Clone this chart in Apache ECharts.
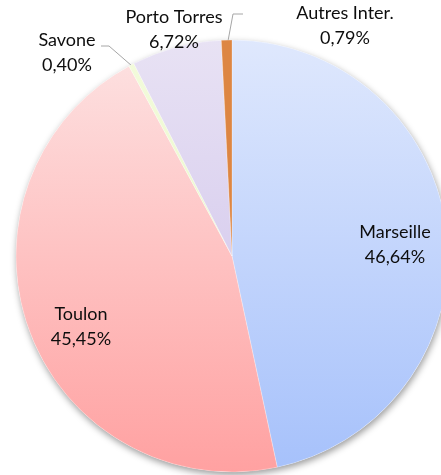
<!DOCTYPE html>
<html>
<head>
<meta charset="utf-8">
<script src="https://cdn.jsdelivr.net/npm/echarts@6/dist/echarts.min.js"></script>
<style>
  html, body { margin: 0; padding: 0; background: #fff; }
  #chart { width: 441px; height: 475px; }
</style>
</head>
<body>
<div id="chart"></div>
<script>
// ports and their share (%)
const ports = ['Marseille', 'Toulon', 'Savone', 'Porto Torres', 'Autres Inter.']
const shares = [46.64, 45.45, 0.40, 6.72, 0.79]
const colorsTop = ['#dfe8fd', '#fde3e3', '#f3fbdc', '#e8e2f4', '#dd8643']
const colorsBottom = ['#a6c1fb', '#ffa1a1', '#e6f6c2', '#cbbde9', '#dd8643']

// where Excel put each label (center of the text block)
const labelPos = [[395, 245], [81, 327], [67, 53], [174, 30], [345, 26]]
const leaderLines = [null, null, [[132, 66], [109, 46], [101, 46]], null, [[228, 41], [233, 14], [243, 14]]]

const fmt = v => v.toFixed(2).replace('.', ',') + '%'

let chart = echarts.init(document.getElementById('chart'), null, {renderer: 'canvas'})

let data = []
for (let i = 0; i < ports.length; i++) {
  data.push({
    name: ports[i],
    value: shares[i],
    itemStyle: {
      color: new echarts.graphic.LinearGradient(0, 40, 0, 472, [
        {offset: 0, color: colorsTop[i]},
        {offset: 1, color: colorsBottom[i]}
      ], true)
    },
    labelLine: {show: leaderLines[i] !== null}
  })
}

let option = {
  animation: false,
  backgroundColor: '#fff',
  series: [
    {
      // shadow under the pie
      type: 'pie',
      silent: true,
      center: [232, 256],
      radius: 216,
      z: 1,
      label: {show: false},
      labelLine: {show: false},
      itemStyle: {
        color: '#fff',
        shadowBlur: 7,
        shadowOffsetX: 1,
        shadowOffsetY: 3,
        shadowColor: 'rgba(0, 0, 0, 0.4)'
      },
      data: [{value: 1}]
    },
    {
      type: 'pie',
      center: [232, 256],
      radius: 216,
      startAngle: 90,
      clockwise: true,
      z: 2,
      avoidLabelOverlap: false,
      itemStyle: {
        borderColor: 'rgba(255,255,255,0.5)',
        borderWidth: 0.5
      },
      label: {
        show: true,
        position: 'outside',
        formatter: p => p.name + '\n' + fmt(p.value),
        fontFamily: 'Lato',
        fontSize: 18,
        lineHeight: 25,
        color: '#0d0d0d',
        align: 'center'
      },
      labelLine: {
        lineStyle: {color: '#a6a6a6', width: 1}
      },
      labelLayout: function (params) {
        let i = params.dataIndex
        let res = {
          x: labelPos[i][0],
          y: labelPos[i][1],
          align: 'center',
          verticalAlign: 'middle'
        }
        if (leaderLines[i]) {
          res.labelLinePoints = leaderLines[i]
        }
        return res
      },
      data: data
    }
  ]
}
chart.setOption(option)
</script>
</body>
</html>
